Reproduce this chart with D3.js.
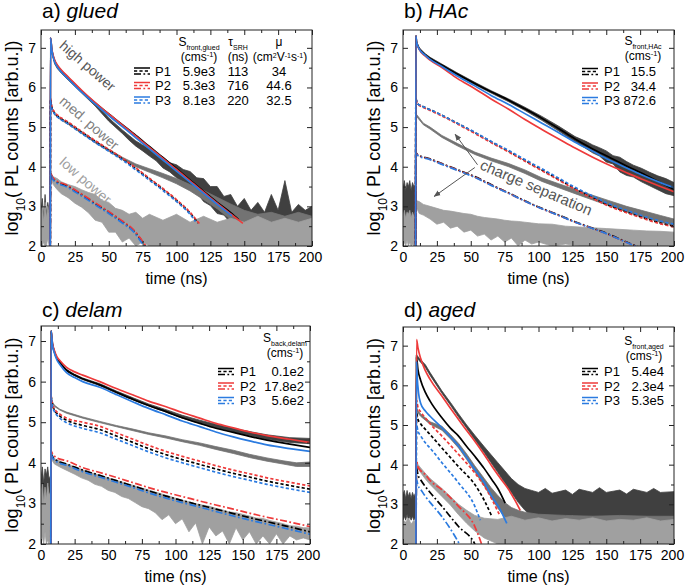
<!DOCTYPE html>
<html><head><meta charset="utf-8">
<script src="https://cdn.jsdelivr.net/npm/d3@7"></script>
<style>body{margin:0;background:#fff} svg text{font-family:"Liberation Sans",Arial,sans-serif}</style>
</head><body><svg id="chart" width="685" height="587" font-family="Liberation Sans, Arial, sans-serif"></svg>
<script>
// ---------- shared ticks / series ----------
const timeTicks = [0,25,50,75,100,125,150,175,200];
const timeMinor = [12.5,37.5,62.5,87.5,112.5,137.5,162.5,187.5];
const logTicks = [2,3,4,5,6,7];
const logMinor = [2.5,3.5,4.5,5.5,6.5];
const seriesNames = ['P1','P2','P3'];

// ---------- a) glued ----------
const glued_P1_high = [[6.8,1.5],[7,7.25],[8,6.95],[10,6.68],[12,6.55],[15,6.42],[20,6.25],[30,5.91],[40,5.61],[50,5.33],[60,5.06],[70,4.79],[80,4.51],[90,4.23],[100,3.95],[110,3.66],[120,3.38],[130,3.1],[140,2.84],[146,2.66]];
const glued_P2_high = [[6.8,1.5],[7,7.25],[8,6.96],[10,6.7],[12,6.57],[15,6.44],[20,6.27],[30,5.93],[40,5.62],[50,5.33],[60,5.05],[70,4.77],[80,4.49],[90,4.21],[100,3.93],[110,3.64],[120,3.36],[130,3.08],[140,2.81],[149,2.57]];
const glued_P3_high = [[6.8,1.5],[7,7.25],[8,6.93],[10,6.65],[12,6.52],[15,6.39],[20,6.22],[30,5.88],[40,5.58],[50,5.29],[60,5.01],[70,4.73],[80,4.45],[90,4.17],[100,3.89],[110,3.61],[120,3.33],[130,3.05],[141,2.76]];
const glued_P1_med = [[6.8,1.5],[7,5.7],[8,5.5],[10,5.36],[13,5.26],[19,5.13],[30,4.87],[40,4.64],[50,4.42],[60,4.2],[70,3.95],[80,3.69],[90,3.43],[100,3.15],[110,2.83],[116,2.58]];
const glued_P2_med = [[6.8,1.5],[7,5.72],[8,5.52],[10,5.38],[13,5.28],[19,5.15],[30,4.89],[40,4.66],[50,4.44],[60,4.22],[70,3.97],[80,3.71],[90,3.45],[100,3.17],[110,2.85],[117,2.56]];
const glued_P3_med = [[6.8,1.5],[7,5.68],[8,5.47],[10,5.33],[13,5.23],[19,5.1],[30,4.84],[40,4.61],[50,4.39],[60,4.17],[70,3.92],[80,3.66],[90,3.4],[100,3.12],[110,2.8],[114,2.62]];
const glued_P1_low = [[6.8,1.5],[7,3.85],[8,3.75],[10,3.66],[19,3.52],[30,3.29],[40,3.07],[50,2.85],[60,2.61],[68,2.4],[76,2.05],[78,1.95]];
const glued_P2_low = [[6.8,1.5],[7,3.86],[8,3.77],[10,3.68],[19,3.54],[30,3.31],[40,3.09],[50,2.87],[60,2.63],[68,2.42],[76,2.07],[78,1.97]];
const glued_P3_low = [[6.8,1.5],[7,3.84],[8,3.73],[10,3.63],[19,3.49],[30,3.26],[40,3.04],[50,2.82],[60,2.58],[68,2.37],[75,2.05],[77,1.95]];
const glued_meas_high = [[0,2.2,2.9],[1,2.4,3.2],[2,2.1,2.7],[3,2.3,3.3],[4,2.1,2.8],[5,2.4,3.1],[6,2.2,2.9],[6.9,2.3,3.0],[7,7.17,7.22],[8,6.9,6.95],[10,6.6,6.65],[12,6.48,6.53],[15,6.36,6.41],[20,6.19,6.24],[30,5.86,5.92],[40,5.53,5.6],[50,5.15,5.23],[60,4.84,4.93],[65,4.67,4.79],[70,4.52,4.65],[75,4.4,4.55],[80,4.27,4.45],[85,4.15,4.33],[90,3.97,4.25],[95,3.87,4.1],[100,3.72,4.05],[105,3.62,3.93],[110,3.45,3.88],[115,3.35,3.72],[120,3.12,3.7],[125,3.02,3.5],[130,2.82,3.5],[135,2.78,3.25],[140,2.58,3.3],[145,2.58,3.0],[150,2.48,3.2],[155,2.52,2.9],[160,2.45,3.1],[165,2.52,2.85],[170,2.42,3.3],[175,2.52,2.9],[180,2.45,3.65],[185,2.52,2.85],[190,2.42,3.05],[195,2.5,2.9],[200,2.45,3.0]];
const glued_meas_med = [[6.9,2.0,2.6],[7,5.6,5.65],[8,5.46,5.5],[10,5.31,5.35],[15,5.17,5.21],[20,5.07,5.11],[30,4.84,4.89],[40,4.6,4.65],[50,4.39,4.44],[60,4.18,4.24],[70,4.0,4.07],[80,3.86,3.95],[90,3.72,3.83],[100,3.57,3.7],[110,3.39,3.55],[120,3.17,3.4],[130,2.94,3.23],[140,2.67,3.06],[150,2.47,2.9],[160,2.37,2.8],[170,2.32,2.85],[180,2.37,2.75],[190,2.27,2.85],[200,2.32,2.75]];
const glued_meas_low = [[0,2.0,2.8],[1,2.0,3.0],[2,2.1,2.6],[3,2.0,3.1],[4,2.0,2.7],[5,2.2,3.0],[6,2.0,2.8],[6.9,2.1,2.9],[7,3.75,3.82],[9,3.55,3.75],[12,3.42,3.7],[15,3.32,3.62],[20,3.22,3.55],[25,3.08,3.5],[30,2.98,3.42],[35,2.84,3.35],[40,2.65,3.3],[45,2.6,3.15],[50,2.35,3.1],[55,2.35,2.95],[60,2.1,2.9],[65,2.2,2.8],[70,2.0,2.85],[75,2.1,2.7],[80,2.0,2.8],[90,2.0,2.65],[100,2.0,2.8],[110,2.0,2.6],[120,2.0,2.75],[130,2.0,2.6],[140,2.0,2.7],[150,2.0,2.6],[160,2.0,2.75],[170,2.0,2.6],[180,2.0,2.7],[190,2.0,2.6],[200,2.0,2.7]];
const glued_S = ['5.9e3','5.3e3','8.1e3'];
const glued_tau = ['113','716','220'];
const glued_mu = ['34','44.6','32.5'];

// ---------- b) HAc ----------
const HAc_P1_high = [[9.3,1.5],[9.5,7.3],[10,7.15],[12,6.98],[16.5,6.82],[20,6.73],[28.7,6.56],[40,6.34],[53,6.1],[65,5.89],[78,5.68],[90,5.46],[102.5,5.22],[115,4.96],[127,4.7],[140,4.45],[151.6,4.25],[165,4.02],[176,3.84],[190,3.6],[200,3.43]];
const HAc_P2_high = [[9.3,1.5],[9.5,7.3],[10,7.14],[12,6.96],[16.5,6.79],[20,6.69],[28.7,6.5],[40,6.23],[53,5.97],[65,5.71],[78,5.45],[90,5.19],[102.5,4.94],[115,4.7],[127,4.47],[140,4.24],[151.6,4.05],[165,3.85],[176,3.69],[190,3.5],[200,3.37]];
const HAc_P3_high = [[9.3,1.5],[9.5,7.3],[10,7.15],[12,6.97],[16.5,6.81],[20,6.71],[28.7,6.53],[40,6.29],[53,6.04],[65,5.8],[78,5.57],[90,5.34],[102.5,5.1],[115,4.86],[127,4.62],[140,4.39],[151.6,4.18],[165,3.97],[176,3.8],[190,3.6],[200,3.47]];
const HAc_P1_med = [[9.3,1.5],[9.5,5.72],[10.5,5.6],[14,5.53],[20,5.44],[28.7,5.3],[40,5.1],[53,4.86],[65,4.63],[78,4.39],[90,4.16],[102.5,3.92],[115,3.68],[127,3.45],[140,3.22],[151.6,3.03],[165,2.86],[176,2.73],[190,2.58],[200,2.5]];
const HAc_P2_med = [[9.3,1.5],[9.5,5.7],[10.5,5.58],[14,5.51],[20,5.42],[28.7,5.28],[40,5.08],[53,4.84],[65,4.61],[78,4.37],[90,4.14],[102.5,3.9],[115,3.66],[127,3.43],[140,3.2],[151.6,3.01],[165,2.84],[176,2.71],[190,2.56],[200,2.48]];
const HAc_P3_med = [[9.3,1.5],[9.5,5.72],[10.5,5.6],[14,5.53],[20,5.44],[28.7,5.3],[40,5.1],[53,4.87],[65,4.64],[78,4.41],[90,4.18],[102.5,3.95],[115,3.71],[127,3.48],[140,3.26],[151.6,3.07],[165,2.9],[176,2.77],[190,2.63],[200,2.55]];
const HAc_P1_low = [[9.3,1.5],[9.5,4.35],[11,4.3],[20,4.2],[28.7,4.08],[40,3.93],[53,3.75],[65,3.55],[78,3.34],[90,3.14],[102.5,2.95],[115,2.78],[127,2.61],[140,2.45],[151.6,2.3],[165,2.1],[172,2.0],[178,1.92]];
const HAc_P2_low = [[9.3,1.5],[9.5,4.34],[11,4.29],[20,4.19],[28.7,4.07],[40,3.92],[53,3.74],[65,3.54],[78,3.33],[90,3.13],[102.5,2.94],[115,2.77],[127,2.6],[140,2.44],[151.6,2.29],[165,2.09],[172,1.99],[178,1.91]];
const HAc_P3_low = [[9.3,1.5],[9.5,4.33],[11,4.28],[20,4.18],[28.7,4.06],[40,3.91],[53,3.73],[65,3.53],[78,3.33],[90,3.13],[102.5,2.94],[115,2.77],[127,2.6],[140,2.44],[151.6,2.29],[165,2.09],[172,1.99],[178,1.91]];
const HAc_meas_high = [[0,2.7,3.45],[1,2.85,3.65],[2,2.65,3.4],[3,2.9,3.6],[4,2.7,3.5],[5,2.8,3.65],[6,2.65,3.4],[7,2.85,3.6],[8,2.7,3.5],[9.3,2.8,3.55],[9.5,7.27,7.31],[10,7.12,7.17],[12,6.95,7.0],[16.5,6.8,6.85],[20,6.71,6.76],[28.7,6.54,6.59],[40,6.31,6.37],[53,6.07,6.13],[65,5.86,5.92],[78,5.64,5.71],[90,5.42,5.5],[102.5,5.17,5.27],[115,4.9,5.02],[127,4.63,4.76],[135,4.46,4.64],[140,4.35,4.55],[145,4.27,4.48],[150,4.12,4.4],[155,4.07,4.28],[160,3.87,4.24],[165,3.78,4.13],[170,3.74,4.04],[176,3.62,3.96],[182,3.52,3.86],[188,3.42,3.77],[194,3.32,3.7],[200,3.27,3.6]];
const HAc_meas_med = [[9.5,5.28,5.33],[10,5.27,5.32],[15,5.06,5.1],[20,4.95,5.0],[28.7,4.74,4.79],[40,4.53,4.59],[53,4.31,4.37],[65,4.15,4.22],[78,4.0,4.08],[90,3.83,3.92],[102.5,3.63,3.72],[115,3.47,3.57],[127,3.32,3.43],[140,3.16,3.28],[151.6,3.02,3.15],[165,2.86,3.0],[176,2.74,2.9],[190,2.6,2.77],[200,2.52,2.68]];
const HAc_meas_low = [[0,2.0,2.75],[1,2.1,2.9],[2,2.0,2.7],[3,2.15,2.85],[4,2.0,2.8],[5,2.1,2.9],[6,2.0,2.7],[7,2.05,2.85],[8,2.0,2.75],[9.3,2.1,2.9],[9.5,3.0,3.15],[12,2.82,3.12],[15,2.78,3.05],[20,2.68,3.0],[25,2.55,2.95],[30,2.6,2.9],[35,2.45,2.88],[40,2.5,2.85],[45,2.35,2.82],[50,2.4,2.8],[55,2.25,2.75],[60,2.3,2.72],[65,2.15,2.7],[70,2.25,2.68],[75,2.1,2.65],[80,2.2,2.63],[85,2.0,2.62],[90,2.15,2.6],[95,2.05,2.58],[100,2.1,2.56],[110,2.0,2.55],[120,2.05,2.5],[130,2.0,2.48],[140,2.0,2.46],[150,2.0,2.44],[160,2.0,2.42],[170,2.0,2.4],[180,2.0,2.38],[190,2.0,2.37],[200,2.0,2.35]];
const HAc_S = ['15.5','34.4','872.6'];

// ---------- c) delam ----------
const delam_P1_high = [[7.3,1.5],[7.5,7.25],[8.5,6.93],[10,6.73],[12,6.56],[14,6.47],[19,6.28],[25,6.16],[31,6.07],[43.7,5.92],[56,5.74],[68.5,5.56],[80,5.41],[93,5.26],[105,5.11],[118,4.97],[130,4.85],[143,4.75],[155,4.65],[168,4.56],[185,4.46],[200,4.38]];
const delam_P2_high = [[7.3,1.5],[7.5,7.25],[8.5,6.95],[10,6.76],[12,6.6],[14,6.52],[19,6.35],[25,6.24],[31,6.16],[43.7,6.0],[56,5.83],[68.5,5.67],[80,5.52],[93,5.38],[105,5.24],[118,5.1],[130,4.97],[143,4.86],[155,4.76],[168,4.67],[185,4.58],[200,4.5]];
const delam_P3_high = [[7.3,1.5],[7.5,7.25],[8.5,6.9],[10,6.7],[12,6.52],[14,6.42],[19,6.22],[25,6.1],[31,6.0],[43.7,5.86],[56,5.68],[68.5,5.5],[80,5.34],[93,5.18],[105,5.03],[118,4.89],[130,4.76],[143,4.64],[155,4.54],[168,4.44],[185,4.35],[200,4.28]];
const delam_P1_med = [[7.3,1.5],[7.5,5.63],[8.5,5.42],[10,5.3],[14,5.15],[19,5.05],[31,4.92],[43.7,4.82],[56,4.66],[68.5,4.5],[80,4.35],[93,4.2],[105,4.08],[118,3.96],[130,3.85],[143,3.74],[155,3.65],[168,3.55],[185,3.44],[200,3.35]];
const delam_P2_med = [[7.3,1.5],[7.5,5.65],[8.5,5.45],[10,5.33],[14,5.2],[19,5.1],[31,5.0],[43.7,4.9],[56,4.74],[68.5,4.58],[80,4.43],[93,4.28],[105,4.16],[118,4.04],[130,3.93],[143,3.82],[155,3.73],[168,3.63],[185,3.52],[200,3.43]];
const delam_P3_med = [[7.3,1.5],[7.5,5.6],[8.5,5.38],[10,5.26],[14,5.1],[19,4.99],[31,4.85],[43.7,4.74],[56,4.58],[68.5,4.42],[80,4.27],[93,4.12],[105,4.0],[118,3.88],[130,3.77],[143,3.66],[155,3.57],[168,3.47],[185,3.36],[200,3.27]];
const delam_P1_low = [[7.3,1.5],[7.5,4.22],[9,4.13],[12,4.05],[19,3.97],[31,3.82],[43.7,3.69],[56,3.56],[68.5,3.43],[80,3.31],[93,3.18],[105,3.07],[118,2.96],[130,2.86],[143,2.75],[155,2.65],[168,2.55],[185,2.42],[200,2.3]];
const delam_P2_low = [[7.3,1.5],[7.5,4.28],[9,4.2],[12,4.12],[19,4.05],[31,3.88],[43.7,3.76],[56,3.64],[68.5,3.51],[80,3.39],[93,3.27],[105,3.17],[118,3.06],[130,2.96],[143,2.86],[155,2.76],[168,2.66],[185,2.54],[200,2.43]];
const delam_P3_low = [[7.3,1.5],[7.5,4.2],[9,4.1],[12,4.02],[19,3.94],[31,3.78],[43.7,3.65],[56,3.52],[68.5,3.39],[80,3.26],[93,3.13],[105,3.02],[118,2.91],[130,2.8],[143,2.69],[155,2.59],[168,2.49],[185,2.36],[200,2.24]];
const delam_meas_high = [[0,3.0,3.6],[1,3.1,3.9],[2,2.9,3.5],[3,3.2,3.85],[4,3.0,3.7],[5,3.1,3.9],[6,2.95,3.6],[7.3,3.1,3.7],[7.5,7.22,7.26],[8.5,6.91,6.95],[10,6.71,6.75],[12,6.54,6.58],[14,6.45,6.49],[19,6.26,6.3],[25,6.14,6.18],[31,6.05,6.09],[43.7,5.9,5.95],[56,5.72,5.77],[68.5,5.55,5.6],[80,5.4,5.45],[93,5.25,5.31],[105,5.1,5.17],[118,4.97,5.05],[130,4.86,4.95],[143,4.76,4.85],[155,4.67,4.77],[168,4.58,4.69],[185,4.5,4.62],[200,4.47,4.6]];
const delam_meas_med = [[7.5,5.58,5.62],[8.5,5.47,5.5],[10,5.39,5.42],[14,5.3,5.32],[19,5.22,5.25],[31,5.1,5.13],[43.7,4.99,5.02],[56,4.89,4.92],[68.5,4.79,4.83],[80,4.7,4.74],[93,4.61,4.66],[105,4.52,4.57],[118,4.43,4.49],[130,4.33,4.4],[143,4.23,4.31],[155,4.13,4.21],[168,4.04,4.12],[180,3.97,4.05],[190,3.91,4.0],[200,3.91,4.02]];
const delam_meas_low = [[0,2.0,3.2],[1,2.2,3.5],[2,2.0,3.0],[3,2.3,3.4],[4,2.0,3.1],[5,2.1,3.5],[6,2.0,3.2],[7.3,2.2,3.3],[7.5,4.1,4.2],[10,3.97,4.1],[15,3.88,4.03],[20,3.8,3.96],[25,3.72,3.9],[30,3.63,3.84],[35,3.57,3.78],[40,3.47,3.73],[45,3.42,3.68],[50,3.32,3.63],[55,3.27,3.58],[60,3.17,3.53],[65,3.12,3.48],[70,3.02,3.43],[75,2.92,3.38],[80,2.87,3.33],[85,2.77,3.28],[90,2.6,3.23],[95,2.72,3.18],[100,2.5,3.13],[105,2.62,3.08],[110,2.3,3.04],[115,2.52,2.99],[120,2.0,2.96],[125,2.42,2.93],[130,2.2,2.88],[135,2.32,2.84],[140,2.0,2.79],[145,2.4,2.77],[150,2.1,2.73],[155,2.3,2.69],[160,2.0,2.64],[165,2.2,2.63],[170,2.0,2.58],[175,2.25,2.54],[180,2.0,2.5],[185,2.2,2.45],[190,2.1,2.44],[195,2.15,2.4],[200,2.1,2.4]];
const delam_S = ['0.1e2','17.8e2','5.6e2'];

// ---------- d) aged ----------
const aged_P1_high = [[9.5,1.5],[10,6.7],[11,6.4],[13,6.13],[16.5,5.82],[20,5.6],[28.7,5.18],[35,4.92],[41,4.72],[47,4.46],[53,4.21],[60,3.9],[65.6,3.62],[70,3.4],[75.4,3.03]];
const aged_P2_high = [[9.5,1.5],[10,7.15],[11,6.95],[13,6.68],[16.5,6.37],[20,6.15],[28.7,5.73],[35,5.42],[41,5.14],[47,4.86],[53,4.59],[60,4.25],[65.6,3.96],[72,3.65],[78,3.37],[83,3.08],[86.5,2.85]];
const aged_P3_high = [[9.5,1.5],[10,6.6],[10.5,6.2],[11.5,5.8],[13,5.55],[16.5,5.35],[20,5.22],[28.7,4.93],[35,4.7],[41,4.47],[47,4.18],[53,3.88],[60,3.55],[65.6,3.2],[72,2.85],[76.6,2.52]];
const aged_P1_med = [[9.5,1.5],[10,5.3],[11,5.15],[13,5.03],[16.5,4.89],[20,4.76],[28.7,4.42],[41,3.95],[53,3.5],[60,3.1],[65.5,2.7]];
const aged_P2_med = [[9.5,1.5],[10,5.62],[11,5.45],[13,5.33],[16.5,5.18],[20,5.03],[28.7,4.72],[41,4.26],[53,3.79],[62,3.35],[71,2.75]];
const aged_P3_med = [[9.5,1.5],[10,5.0],[11,4.85],[13,4.73],[16.5,4.55],[20,4.42],[28.7,4.05],[41,3.54],[53,2.95],[57,2.6]];
const aged_P1_low = [[9.5,1.5],[10,3.92],[11,3.75],[13,3.62],[16.5,3.45],[20,3.3],[28.7,2.95],[41,2.44],[53,2.0],[55,1.85]];
const aged_P2_low = [[9.5,1.5],[10,4.1],[11,3.95],[13,3.85],[16.5,3.75],[20,3.6],[28.7,3.37],[41,2.95],[53,2.44],[58,2.0],[60,1.8]];
const aged_P3_low = [[9.5,1.5],[10,3.62],[11,3.48],[13,3.38],[16.5,3.2],[20,3.05],[28.7,2.69],[40,2.1],[44,1.85]];
const aged_meas_high = [[0,2.6,3.25],[1,2.7,3.35],[2,2.6,3.15],[3,2.75,3.35],[4,2.6,3.2],[5,2.7,3.3],[6,2.6,3.15],[7,2.7,3.3],[8,2.6,3.2],[9.5,2.7,3.3],[9.7,6.7,6.75],[10,6.72,6.77],[12,6.62,6.68],[16.5,6.45,6.52],[20,6.25,6.32],[28.7,5.8,5.86],[35,5.5,5.57],[41,5.2,5.28],[47,4.92,5.0],[53,4.63,4.74],[60,4.3,4.45],[65,4.05,4.25],[70,3.8,4.05],[75,3.55,3.85],[80,3.3,3.65],[85,3.05,3.5],[90,2.85,3.4],[95,2.7,3.35],[100,2.7,3.3],[105,2.62,3.4],[110,2.7,3.28],[120,2.65,3.36],[125,2.72,3.25],[130,2.62,3.38],[140,2.7,3.3],[145,2.65,3.42],[150,2.7,3.3],[160,2.62,3.36],[165,2.7,3.26],[170,2.65,3.38],[180,2.7,3.3],[185,2.62,3.4],[190,2.68,3.3],[200,2.7,3.32]];
const aged_meas_med = [[9.5,2.2,2.6],[9.7,5.38,5.42],[10,5.38,5.44],[11,5.3,5.36],[13,5.22,5.28],[16.5,5.12,5.18],[20,5.02,5.08],[28.7,4.87,4.97],[35,4.65,4.76],[41,4.42,4.54],[47,4.13,4.27],[53,3.82,3.97],[60,3.46,3.65],[65,3.18,3.42],[70,2.9,3.22],[75,2.68,3.05],[80,2.5,2.92],[85,2.35,2.85],[90,2.25,2.8],[100,2.2,2.75],[120,2.15,2.72],[140,2.2,2.7],[160,2.15,2.72],[180,2.2,2.7],[200,2.15,2.7]];
const aged_meas_low = [[0,2.0,2.6],[2,2.0,2.55],[4,2.0,2.65],[6,2.0,2.5],[8,2.0,2.6],[9.5,2.0,2.55],[9.7,3.95,4.02],[10,3.95,4.05],[13,3.8,3.92],[16.5,3.64,3.78],[20,3.5,3.65],[28.7,3.2,3.4],[35,2.98,3.2],[41,2.74,3.0],[47,2.52,2.85],[53,2.33,2.72],[60,2.15,2.65],[70,2.0,2.62],[80,2.0,2.7],[90,2.0,2.6],[100,2.0,2.66],[110,2.0,2.58],[120,2.0,2.64],[130,2.0,2.6],[140,2.0,2.66],[150,2.0,2.58],[160,2.0,2.62],[170,2.0,2.6],[180,2.0,2.66],[190,2.0,2.58],[200,2.0,2.62]];
const aged_S = ['5.4e4','2.3e4','5.3e5'];

// ---------- styles ----------
const seriesColor = {P1:'#000000', P2:'#ee3a3a', P3:'#2b7be0'};
const powerDash = [null, '3.2,2.2', '7,2.4,1.8,2.4'];
const measColor = ['#404040', '#737373', '#a0a0a0'];

const panels = [
  {key:'a', tag:'a) ', name:'glued', left:41, right:312, top:30, bottom:246, ymax:7.45, titleY:18,
   models:{P1:[glued_P1_high,glued_P1_med,glued_P1_low],P2:[glued_P2_high,glued_P2_med,glued_P2_low],P3:[glued_P3_high,glued_P3_med,glued_P3_low]},
   meas:[glued_meas_high,glued_meas_med,glued_meas_low]},
  {key:'b', tag:'b) ', name:'HAc', left:403, right:674, top:30, bottom:246, ymax:7.45, titleY:18,
   models:{P1:[HAc_P1_high,HAc_P1_med,HAc_P1_low],P2:[HAc_P2_high,HAc_P2_med,HAc_P2_low],P3:[HAc_P3_high,HAc_P3_med,HAc_P3_low]},
   meas:[HAc_meas_high,HAc_meas_med,HAc_meas_low]},
  {key:'c', tag:'c) ', name:'delam', left:41, right:310, top:326, bottom:544, ymax:7.37, titleY:317,
   models:{P1:[delam_P1_high,delam_P1_med,delam_P1_low],P2:[delam_P2_high,delam_P2_med,delam_P2_low],P3:[delam_P3_high,delam_P3_med,delam_P3_low]},
   meas:[delam_meas_high,delam_meas_med,delam_meas_low]},
  {key:'d', tag:'d) ', name:'aged', left:403, right:674, top:327, bottom:544, ymax:7.47, titleY:317,
   models:{P1:[aged_P1_high,aged_P1_med,aged_P1_low],P2:[aged_P2_high,aged_P2_med,aged_P2_low],P3:[aged_P3_high,aged_P3_med,aged_P3_low]},
   meas:[aged_meas_high,aged_meas_med,aged_meas_low]}
];

const svg = d3.select('#chart');
const defs = svg.append('defs');
defs.append('marker').attr('id','arrow').attr('viewBox','0 0 10 10').attr('refX',9).attr('refY',5)
  .attr('markerWidth',7).attr('markerHeight',7).attr('orient','auto-start-reverse')
  .append('path').attr('d','M0,1 L10,5 L0,9 z').attr('fill','#555');

function rich(sel, parts){
  parts.forEach(p=>{
    const t = sel.append('tspan').text(p.t);
    if(p.sub){ t.attr('font-size', p.fs||8).attr('baseline-shift','sub'); }
    if(p.sup){ t.attr('font-size', p.fs||8).attr('baseline-shift','super'); }
    if(p.it){ t.attr('font-style','italic'); }
  });
  return sel;
}

function legendGlyph(g, x0, yc, color){
  const w = 16;
  [-3, 0, 3].forEach((dy,i)=>{
    g.append('line').attr('x1',x0).attr('x2',x0+w).attr('y1',yc+dy).attr('y2',yc+dy)
      .attr('stroke',color).attr('stroke-width',1.5).attr('stroke-dasharray',powerDash[i]);
  });
}

const scales = {};
panels.forEach(p=>{
  const x = d3.scaleLinear().domain([0,200]).range([p.left,p.right]);
  const y = d3.scaleLinear().domain([2,p.ymax]).range([p.bottom,p.top]);
  scales[p.key] = {x,y};
  const g = svg.append('g');
  defs.append('clipPath').attr('id','clip'+p.key).append('rect')
    .attr('x',p.left).attr('y',p.top).attr('width',p.right-p.left).attr('height',p.bottom-p.top);
  const plot = g.append('g').attr('clip-path',`url(#clip${p.key})`);
  const area = d3.area().x(d=>x(d[0])).y0(d=>y(d[1])).y1(d=>y(d[2]));
  p.meas.forEach((m,i)=>{
    plot.append('path').attr('d',area(m)).attr('fill',measColor[i])
      .attr('stroke',measColor[i]).attr('stroke-width',0.8).attr('stroke-linejoin','round');
  });
  const line = d3.line().x(d=>x(d[0])).y(d=>y(d[1])).curve(d3.curveMonotoneX);
  [2,1,0].forEach(pi=>{
    seriesNames.forEach(s=>{
      plot.append('path').attr('d',line(p.models[s][pi])).attr('fill','none')
        .attr('stroke',seriesColor[s]).attr('stroke-width',1.7)
        .attr('stroke-dasharray',powerDash[pi]);
    });
  });
  g.append('rect').attr('x',p.left).attr('y',p.top).attr('width',p.right-p.left).attr('height',p.bottom-p.top)
    .attr('fill','none').attr('stroke','#222').attr('stroke-width',1);
  const fs = '14px';
  const bx = g.append('g').attr('transform',`translate(0,${p.bottom})`)
    .call(d3.axisBottom(x).tickValues(timeTicks).tickSizeInner(-5).tickSizeOuter(0).tickPadding(6));
  bx.selectAll('text').attr('font-size',fs).attr('fill','#000')
    .attr('dx',d=>d===200?'-2':null);
  g.append('g').attr('transform',`translate(0,${p.bottom})`)
    .call(d3.axisBottom(x).tickValues(timeMinor).tickSizeInner(-3).tickSizeOuter(0).tickFormat(''));
  g.append('g').attr('transform',`translate(0,${p.top})`)
    .call(d3.axisTop(x).tickValues(timeTicks).tickSizeInner(-5).tickSizeOuter(0).tickFormat(''));
  g.append('g').attr('transform',`translate(0,${p.top})`)
    .call(d3.axisTop(x).tickValues(timeMinor).tickSizeInner(-3).tickSizeOuter(0).tickFormat(''));
  const ly = g.append('g').attr('transform',`translate(${p.left},0)`)
    .call(d3.axisLeft(y).tickValues(logTicks).tickSizeInner(-5).tickSizeOuter(0).tickPadding(5).tickFormat(d3.format('d')));
  ly.selectAll('text').attr('font-size',fs).attr('fill','#000');
  g.append('g').attr('transform',`translate(${p.left},0)`)
    .call(d3.axisLeft(y).tickValues(logMinor).tickSizeInner(-3).tickSizeOuter(0).tickFormat(''));
  g.append('g').attr('transform',`translate(${p.right},0)`)
    .call(d3.axisRight(y).tickValues(logTicks).tickSizeInner(-5).tickSizeOuter(0).tickFormat(''));
  g.append('g').attr('transform',`translate(${p.right},0)`)
    .call(d3.axisRight(y).tickValues(logMinor).tickSizeInner(-3).tickSizeOuter(0).tickFormat(''));
  g.selectAll('.domain').remove();
  g.selectAll('.tick line').attr('stroke','#222');
  const tt = g.append('text').attr('x',p.left+1).attr('y',p.titleY).attr('font-size','21px').attr('fill','#000');
  rich(tt,[{t:p.tag},{t:p.name,it:true}]);
  g.append('text').attr('x',(p.left+p.right)/2).attr('y',p.bottom+38).attr('text-anchor','middle')
    .attr('font-size','16px').attr('fill','#000').text('time (ns)');
  const yt = g.append('text').attr('transform',`translate(${p.left-23},${(p.top+p.bottom)/2}) rotate(-90)`)
    .attr('text-anchor','middle').attr('font-size','18px').attr('fill','#000');
  rich(yt,[{t:'log'},{t:'10',sub:true,fs:12},{t:'( PL counts [arb.u.])'}]);
});

// ---------- legends ----------
const LF = '13px', HF = '12px';
const legendLayer = svg.append('g').attr('fill','#000');
function legendRows(rowsY, glyphX, labelX){
  seriesNames.forEach((s,i)=>{
    legendGlyph(legendLayer, glyphX, rowsY[i], seriesColor[s]);
    legendLayer.append('text').attr('x',labelX).attr('y',rowsY[i]+4.5).attr('font-size',LF).attr('fill','#000').text(s);
  });
}
function ltext(x, y, size, anchor){
  return legendLayer.append('text').attr('x',x).attr('y',y).attr('text-anchor',anchor||'middle')
    .attr('font-size',size).attr('fill','#000');
}
(function(){
  const rows=[71,85.5,100];
  legendRows(rows, 134, 155);
  const h1=46, h2=61;
  rich(ltext(199,h1,HF),[{t:'S'},{t:'front,glued',sub:true,fs:7}]);
  rich(ltext(199,h2,HF),[{t:'(cms'},{t:'-1',sup:true,fs:7.5},{t:')'}]);
  rich(ltext(238,h1,HF),[{t:'τ'},{t:'SRH',sub:true,fs:7}]);
  ltext(238,h2,HF).text('(ns)');
  ltext(279,h1,HF).text('μ');
  rich(ltext(280,h2,HF),[{t:'(cm'},{t:'2',sup:true,fs:7},{t:'V'},{t:'-1',sup:true,fs:7},{t:'s'},{t:'-1',sup:true,fs:7},{t:')'}]);
  rows.forEach((ry,i)=>{
    ltext(199,ry+4.5,LF).text(glued_S[i]);
    ltext(238,ry+4.5,LF).text(glued_tau[i]);
    ltext(279,ry+4.5,LF).text(glued_mu[i]);
  });
})();
function simpleLegend(hx, h1, sub, rows, glyphX, labelX, valX, vals){
  rich(ltext(hx,h1,HF),[{t:'S'},{t:sub,sub:true,fs:7}]);
  rich(ltext(hx,h1+15,HF),[{t:'(cms'},{t:'-1',sup:true,fs:7.5},{t:')'}]);
  legendRows(rows, glyphX, labelX);
  rows.forEach((ry,i)=>{ ltext(valX,ry+4.5,LF,'end').text(vals[i]); });
}
simpleLegend(643, 45, 'front,HAc', [71.5,86,100.5], 582, 604, 656, HAc_S);
simpleLegend(285, 342, 'back,delam', [371.5,386,400.5], 218, 240, 304, delam_S);
simpleLegend(644, 345, 'front,aged', [371.5,386,400.5], 582, 604, 664, aged_S);

// ---------- annotations ----------
(function(){
  const {x,y} = scales.a;
  const ann = [['high power',13,7.02,'#555'],['med. power',13,5.62,'#808080'],['low power',13,4.08,'#a0a0a0']];
  ann.forEach(a=>{
    svg.append('text').attr('transform',`translate(${x(a[1])},${y(a[2])}) rotate(41)`)
      .attr('font-size','14px').attr('fill',a[3]).text(a[0]);
  });
  const s = scales.b;
  svg.append('text').attr('transform',`translate(${s.x(56)},${s.y(3.95)}) rotate(23)`)
    .attr('font-size','15px').attr('fill','#555').text('charge separation');
  svg.append('line').attr('x1',s.x(55)).attr('y1',s.y(4.05)).attr('x2',s.x(38.5)).attr('y2',s.y(4.82))
    .attr('stroke','#555').attr('stroke-width',1).attr('marker-end','url(#arrow)');
  svg.append('line').attr('x1',s.x(53)).attr('y1',s.y(3.98)).attr('x2',s.x(23)).attr('y2',s.y(3.25))
    .attr('stroke','#555').attr('stroke-width',1).attr('marker-end','url(#arrow)');
})();
</script></body></html>
